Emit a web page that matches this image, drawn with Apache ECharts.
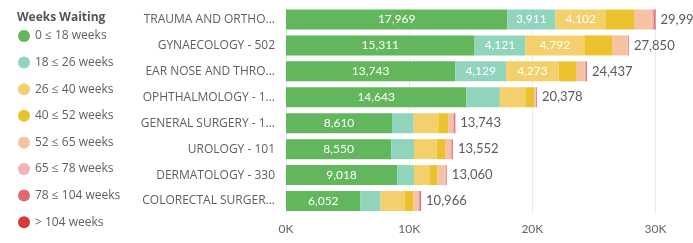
<!DOCTYPE html>
<html>
<head>
<meta charset="utf-8">
<script src="https://cdn.jsdelivr.net/npm/echarts@6/dist/echarts.min.js"></script>
<style>
  html, body { margin: 0; padding: 0; background: #fff; }
  #chart { width: 693px; height: 243px; }
</style>
</head>
<body>
<div id="chart"></div>
<script>
var categories = ['TRAUMA AND ORTHO...', 'GYNAECOLOGY - 502', 'EAR NOSE AND THRO...', 'OPHTHALMOLOGY - 1...',
  'GENERAL SURGERY - 1...', 'UROLOGY - 101', 'DERMATOLOGY - 330', 'COLORECTAL SURGER...'];

// waiting list counts per band
var w0_18   = [17969, 15311, 13743, 14643, 8610, 8550, 9018, 6052];
var w18_26  = [3911, 4121, 4129, 2720, 1760, 1840, 1370, 1630];
var w26_40  = [4102, 4792, 4273, 2080, 2000, 1840, 1300, 1970];
var w40_52  = [2280, 2250, 1400, 690, 790, 680, 600, 680];
var w52_65  = [1420, 1250, 680, 120, 330, 400, 600, 360];
var w65_78  = [160, 70, 100, 60, 150, 150, 120, 150];
var w78_104 = [90, 40, 70, 40, 60, 60, 32, 70];
var w104    = [64, 16, 42, 25, 43, 32, 20, 54];

var bandNames = ['0 ≤ 18 weeks', '18 ≤ 26 weeks', '26 ≤ 40 weeks', '40 ≤ 52 weeks',
  '52 ≤ 65 weeks', '65 ≤ 78 weeks', '78 ≤ 104 weeks', '> 104 weeks'];
var xTicks = [0, 10000, 20000, 30000];

var bands = [w0_18, w18_26, w26_40, w40_52, w52_65, w65_78, w78_104, w104];
var colors = ['#62B65B', '#8FD4BB', '#F3D06B', '#EBC12E', '#F6C3A0', '#F0B3B6', '#DF6A6F', '#D43A3A'];

var totals = categories.map(function (c, i) {
  return bands.reduce(function (s, b) { return s + b[i]; }, 0);
});

function fmt(v) {
  return v.toString().replace(/\B(?=(\d{3})+(?!\d))/g, ',');
}

var myChart = echarts.init(document.getElementById('chart'));

var series = bands.map(function (b, k) {
  var s = {
    name: bandNames[k],
    type: 'bar',
    stack: 'total',
    data: b,
    barWidth: 20,
    itemStyle: { color: colors[k] },
    emphasis: { disabled: true }
  };
  if (k < 3) {
    s.label = {
      show: true,
      position: 'inside',
      color: '#fff',
      fontFamily: 'Lato',
      fontSize: 12,
      formatter: function (p) {
        return (k === 0 || p.value >= 3000) ? fmt(p.value) : '';
      }
    };
  }
  if (k === bands.length - 1) {
    s.label = {
      show: true,
      position: 'right',
      distance: 5,
      color: '#5a5a5a',
      fontFamily: 'Lato',
      fontSize: 13,
      formatter: function (p) { return fmt(totals[p.dataIndex]); }
    };
  }
  return s;
});

var option = {
  animation: false,
  title: {
    text: 'Weeks Waiting',
    left: 12,
    top: 7,
    textStyle: { color: '#555', fontSize: 12, fontWeight: 'bold', fontFamily: 'Open Sans' }
  },
  legend: {
    orient: 'vertical',
    left: 13,
    top: 25,
    itemWidth: 12,
    itemHeight: 12,
    itemGap: 14.6,
    icon: 'circle',
    data: bandNames,
    textStyle: { color: '#5f5f5f', fontSize: 12, fontFamily: 'Open Sans', lineHeight: 12 }
  },
  grid: {
    left: 286,
    right: 37.5,
    top: 6.5,
    bottom: 29,
    containLabel: false
  },
  xAxis: {
    type: 'value',
    min: xTicks[0],
    max: xTicks[xTicks.length - 1],
    interval: 10000,
    axisLine: { show: false },
    axisTick: { show: false },
    splitLine: { lineStyle: { color: '#ebebeb' } },
    axisLabel: {
      color: '#666',
      fontFamily: 'Lato',
      fontSize: 12,
      margin: 9,
      formatter: function (v) { return (v / 1000) + 'K'; }
    }
  },
  yAxis: {
    type: 'category',
    inverse: true,
    data: categories,
    axisLine: { show: false },
    axisTick: { show: false },
    axisLabel: { color: '#5f5f5f', fontSize: 12, fontFamily: 'Open Sans', margin: 11 }
  },
  series: series
};

myChart.setOption(option);
window.addEventListener('resize', function () {
  myChart.resize();
});
</script>
</body>
</html>
